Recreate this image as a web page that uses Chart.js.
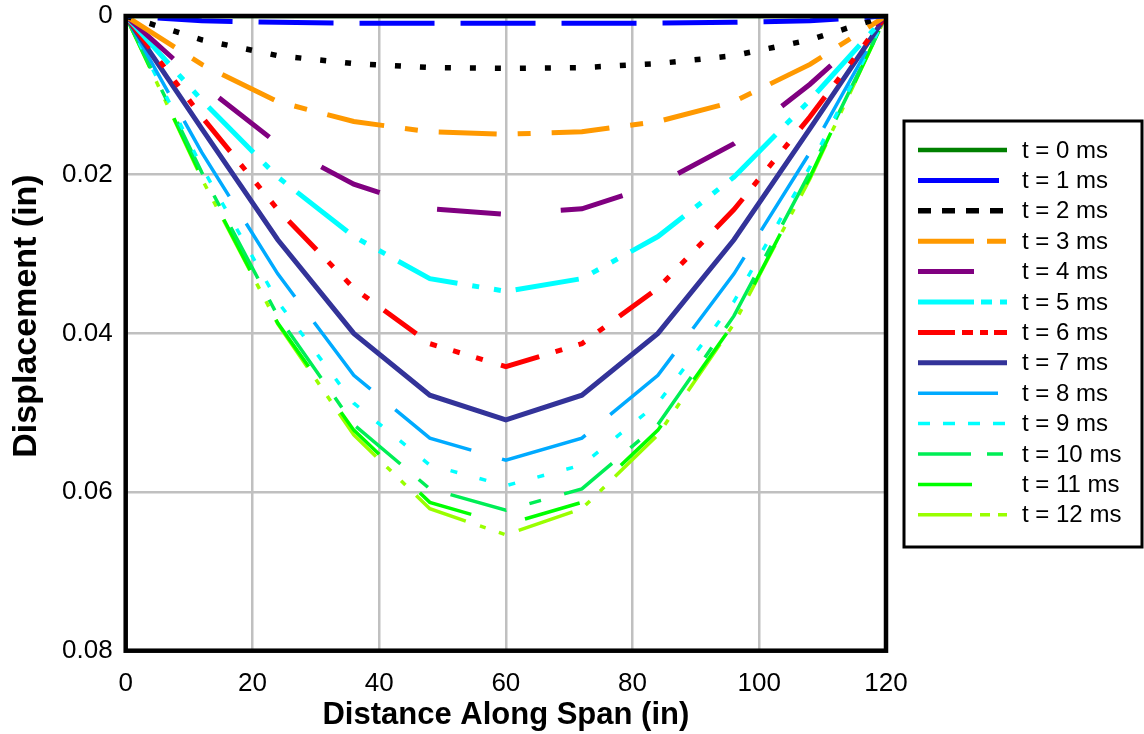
<!DOCTYPE html>
<html>
<head>
<meta charset="utf-8">
<script src="https://cdn.jsdelivr.net/npm/chart.js@4/dist/chart.umd.min.js"></script>
<style>
  html, body { margin: 0; padding: 0; background: #fff; }
  #wrap { width: 1144px; height: 734px; }
</style>
</head>
<body>
<div id="wrap"><canvas id="chart" width="1144" height="734"></canvas></div>
<script>
// --- data ---
const spanX = [0, 12, 24, 36, 48, 60, 72, 84, 96, 108, 120];

const seriesLabels = ['t = 0 ms', 't = 1 ms', 't = 2 ms', 't = 3 ms', 't = 4 ms', 't = 5 ms', 't = 6 ms',
                      't = 7 ms', 't = 8 ms', 't = 9 ms', 't = 10 ms', 't = 11 ms', 't = 12 ms'];

const t0  = [0, 0, 0, 0, 0, 0, 0, 0, 0, 0, 0];
const t1  = [0, 0.0006, 0.0008, 0.0009, 0.0009, 0.0009, 0.0009, 0.0009, 0.0008, 0.0006, 0];
const t2  = [0, 0.0030, 0.0050, 0.0060, 0.0065, 0.0066, 0.0065, 0.0060, 0.0050, 0.0030, 0];
const t3  = [0, 0.0061, 0.0108, 0.0133, 0.0146, 0.0149, 0.0146, 0.0133, 0.0108, 0.0061, 0];
const t4  = [0, 0.0086, 0.0161, 0.0212, 0.0243, 0.0250, 0.0243, 0.0212, 0.0161, 0.0086, 0];
const t5  = [0, 0.0106, 0.0203, 0.0278, 0.0331, 0.0347, 0.0331, 0.0278, 0.0203, 0.0106, 0];
const t6  = [0, 0.0127, 0.0244, 0.0343, 0.0413, 0.0442, 0.0413, 0.0343, 0.0244, 0.0127, 0];
const t7  = [0, 0.0142, 0.0282, 0.0400, 0.0478, 0.0509, 0.0478, 0.0400, 0.0282, 0.0142, 0];
const t8  = [0, 0.0172, 0.0325, 0.0453, 0.0532, 0.0560, 0.0532, 0.0453, 0.0325, 0.0172, 0];
const t9  = [0, 0.0190, 0.0360, 0.0488, 0.0566, 0.0592, 0.0566, 0.0488, 0.0360, 0.0190, 0];
const t10 = [0, 0.0197, 0.0378, 0.0515, 0.0596, 0.0623, 0.0596, 0.0515, 0.0378, 0.0197, 0];
const t11 = [0, 0.0203, 0.0387, 0.0522, 0.0613, 0.0641, 0.0613, 0.0522, 0.0387, 0.0203, 0];
const t12 = [0, 0.0205, 0.0388, 0.0528, 0.0621, 0.0654, 0.0621, 0.0528, 0.0388, 0.0205, 0];

const xTickLabels = ['0', '20', '40', '60', '80', '100', '120'];
const yTickLabels = ['0', '0.02', '0.04', '0.06', '0.08'];

// --- styles ---
const seriesValues = [t0, t1, t2, t3, t4, t5, t6, t7, t8, t9, t10, t11, t12];
const colors = ['#008000', '#0000ff', '#000000', '#ff9900', '#800080', '#00ffff', '#ff0000',
                '#333399', '#00aaff', '#00ffff', '#00ee55', '#00ff00', '#99ff00'];
const widths = [4.5, 5, 5.5, 5, 5, 5, 5, 5, 3.5, 3.5, 3.5, 3.5, 3.5];
const dashes = [[], [75, 26], [6, 19], [58, 21, 13, 21], [64, 60], [64, 15, 7, 15, 7, 15],
                [40, 17, 7, 17, 7, 17, 7, 19], [], [88, 32], [7, 23], [58, 24, 12, 24],
                [57, 56], [57, 15, 6, 14, 6, 15]];
const dashOffsets = [0, 69, 0, 0, 0, 0, 0, 0, 0, 0, 0, 0, 0];
const legendDashes = [[], [81, 100], [13, 11], [56, 13, 19, 100], [56, 100], [56, 7, 11, 8, 7, 100],
                      [37, 7, 11, 7, 8, 6, 13], [], [80, 100], [12, 13], [53, 16, 16, 100],
                      [54, 100], [54, 8, 10, 8, 10, 100]];

const FONT = '"Liberation Sans", Arial, Helvetica, sans-serif';

const datasets = seriesValues.map((vals, i) => ({
    label: seriesLabels[i],
    data: vals.map((v, j) => ({ x: spanX[j], y: v })),
    borderColor: colors[i],
    borderWidth: widths[i],
    borderDash: dashes[i],
    borderDashOffset: dashOffsets[i],
    pointRadius: 0,
    tension: 0,
    fill: false
}));

// border, axis titles and legend box
const decorPlugin = {
    id: 'decor',
    afterDatasetsDraw(chart) {
        const { ctx, chartArea: a } = chart;
        ctx.save();
        ctx.strokeStyle = '#000';
        ctx.lineWidth = 4.5;
        ctx.strokeRect(a.left, a.top, a.right - a.left, a.bottom - a.top);

        // axis titles
        ctx.fillStyle = '#000';
        ctx.textAlign = 'center';
        ctx.textBaseline = 'middle';
        ctx.font = 'bold 31px ' + FONT;
        ctx.fillText('Distance Along Span (in)', (a.left + a.right) / 2, 715);
        ctx.save();
        ctx.translate(27, 316);
        ctx.rotate(-Math.PI / 2);
        ctx.font = 'bold 34px ' + FONT;
        ctx.fillText('Displacement (in)', 0, 0);
        ctx.restore();

        // legend
        ctx.lineWidth = 3;
        ctx.strokeStyle = '#000';
        ctx.fillStyle = '#fff';
        ctx.fillRect(904, 121, 238, 426);
        ctx.strokeRect(904, 121, 238, 426);
        ctx.font = '24px ' + FONT;
        ctx.textAlign = 'left';
        seriesLabels.forEach((lab, i) => {
            const y = 150 + i * 30.4;
            ctx.beginPath();
            ctx.setLineDash(legendDashes[i]);
            ctx.lineDashOffset = 0;
            ctx.strokeStyle = colors[i];
            ctx.lineWidth = widths[i];
            ctx.moveTo(918, y);
            ctx.lineTo(1007, y);
            ctx.stroke();
            ctx.setLineDash([]);
            ctx.fillStyle = '#000';
            ctx.fillText(lab, 1022, y + 1);
        });
        ctx.restore();
    }
};

new Chart(document.getElementById('chart'), {
    type: 'line',
    data: { datasets },
    options: {
        responsive: false,
        animation: false,
        layout: { padding: { left: 0, top: 16, right: 258, bottom: 0 } },
        plugins: { legend: { display: false }, tooltip: { enabled: false } },
        scales: {
            x: {
                type: 'linear',
                min: 0, max: 120,
                ticks: {
                    stepSize: 20, padding: 18, color: '#000',
                    font: { family: FONT, size: 26 },
                    callback: v => xTickLabels[Math.round(v / 20)]
                },
                grid: { color: '#c0c0c0', lineWidth: 2.5, drawTicks: false },
                border: { display: false },
                afterFit: s => { s.height = 83.3; s.paddingLeft = 0; s.paddingRight = 0; }
            },
            y: {
                type: 'linear',
                min: 0, max: 0.08, reverse: true,
                ticks: {
                    stepSize: 0.02, padding: 13, color: '#000',
                    font: { family: FONT, size: 26 },
                    callback: v => yTickLabels[Math.round(v / 0.02)]
                },
                grid: { color: '#c0c0c0', lineWidth: 2.5, drawTicks: false },
                border: { display: false },
                afterFit: s => { s.width = 125.7; s.paddingTop = 0; s.paddingBottom = 0; }
            }
        }
    },
    plugins: [decorPlugin]
});
</script>
</body>
</html>
